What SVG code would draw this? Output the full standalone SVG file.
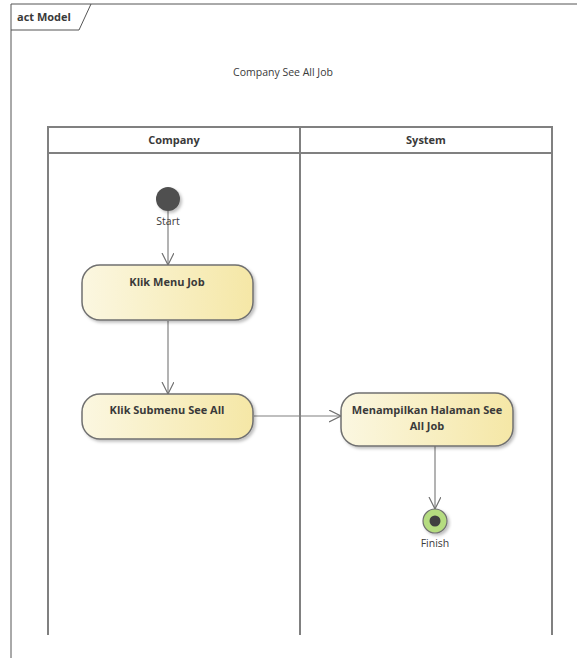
<svg xmlns="http://www.w3.org/2000/svg" width="577" height="658" viewBox="0 0 577 658">
<defs>
<linearGradient id="actFill" x1="0" y1="0" x2="1" y2="0">
<stop offset="0" stop-color="#fbf7e1"/>
<stop offset="1" stop-color="#f5e7a6"/>
</linearGradient>
<filter id="sh" x="-10%" y="-10%" width="130%" height="140%">
<feDropShadow dx="2" dy="2" stdDeviation="1.5" flood-color="#000" flood-opacity="0.25"/>
</filter>
<marker id="open" markerWidth="14" markerHeight="14" refX="12" refY="6" orient="auto" markerUnits="userSpaceOnUse">
<path d="M0,0 L12,6 L0,12" fill="none" stroke="#707070" stroke-width="1.2"/>
</marker>
</defs>
<style>
text{font-family:"Open Sans","Liberation Sans",sans-serif;fill:#3a3a3a}
.b{font-weight:bold;font-size:11px}
.s{font-size:10.5px}
.lane{fill:none;stroke:#808080;stroke-width:2}
.act{fill:url(#actFill);stroke:#707070;stroke-width:1.5;filter:url(#sh)}
.conn{fill:none;stroke:#808080;stroke-width:1.2;marker-end:url(#open)}
</style>
<rect width="577" height="658" fill="#fff"/>
<g id="frame">
<path d="M11,658 V4 H577" fill="none" stroke="#555" stroke-width="1"/>
<path d="M11,30 H79 L91,4" fill="none" stroke="#555" stroke-width="1"/>
<text x="17" y="21" class="b" style="font-size:11px">act Model</text>
</g>
<text x="283" y="76" class="s" text-anchor="middle">Company See All Job</text>
<g id="lanes">
<path class="lane" d="M48,635 V127 H552 V635 M300,127 V635 M48,153 H552"/>
<text x="174" y="144" class="b" text-anchor="middle">Company</text>
<text x="426" y="144" class="b" text-anchor="middle">System</text>
</g>
<g id="connectors">
<line class="conn" x1="168" y1="211" x2="168" y2="265"/>
<line class="conn" x1="168" y1="321" x2="168" y2="394"/>
<line class="conn" x1="254" y1="416" x2="341" y2="416"/>
<line class="conn" x1="435" y1="446" x2="435" y2="509"/>
</g>
<g id="start">
<circle cx="168" cy="199" r="12" fill="#505050" filter="url(#sh)"/>
<text x="168" y="225" class="s" text-anchor="middle">Start</text>
</g>
<g id="klik-menu-job">
<rect class="act" x="82" y="265" width="171" height="55" rx="18"/>
<text x="167" y="286" class="b" text-anchor="middle">Klik Menu Job</text>
</g>
<g id="klik-submenu">
<rect class="act" x="82" y="394" width="171" height="45" rx="18"/>
<text x="167" y="414" class="b" text-anchor="middle">Klik Submenu See All</text>
</g>
<g id="menampilkan">
<rect class="act" x="341" y="393" width="172" height="53" rx="18"/>
<text x="427" y="414" class="b" text-anchor="middle">Menampilkan Halaman See</text>
<text x="427" y="430" class="b" text-anchor="middle">All Job</text>
</g>
<g id="finish">
<circle cx="435" cy="521" r="12" fill="#b5dc80" stroke="#707070" stroke-width="1.2" filter="url(#sh)"/>
<circle cx="435" cy="521" r="5.5" fill="#404040"/>
<text x="435" y="547" class="s" text-anchor="middle">Finish</text>
</g>
</svg>
